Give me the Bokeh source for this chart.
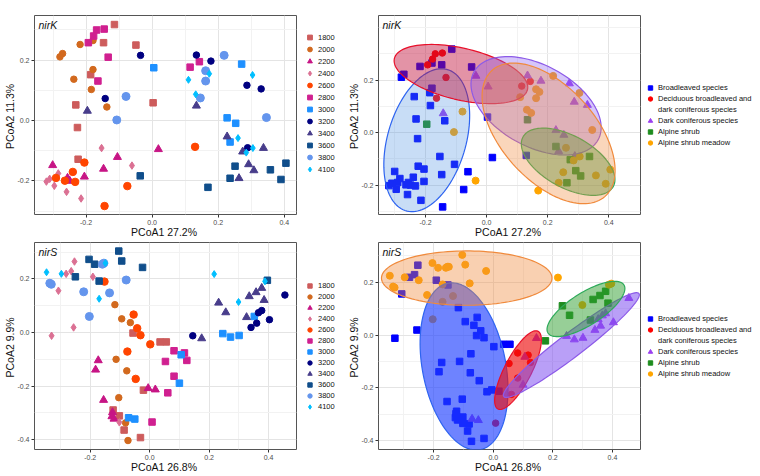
import numpy as np
from bokeh.plotting import figure
from bokeh.models import (ColumnDataSource, Legend, LegendItem, Label, FixedTicker, Range1d,
                          NumeralTickFormatter)
from bokeh.layouts import row, column
from bokeh.embed import file_html
from bokeh.resources import INLINE

FONT = "Liberation Sans"

# ---------------- categories ----------------
altitude_labels = ["1800", "2000", "2200", "2400", "2600", "2800",
                   "3000", "3200", "3400", "3600", "3800", "4100"]
altitude_markers = ["square", "circle", "triangle", "diamond", "circle", "square",
                    "square", "circle", "triangle", "square", "circle", "diamond"]
altitude_colors = ["#CD5C5C", "#D2691E", "#C71585", "#DB7093", "#FF4500", "#D02090",
                   "#1E90FF", "#000080", "#483D8B", "#104E8B", "#6495ED", "#00BFFF"]
altitude_sizes = [6.5, 6.5, 8, 7.5, 7.5, 6.5, 6.5, 6.5, 8, 6.5, 8, 7]

vegetation_labels = ["Broadleaved species",
                     "Deciduous broadleaved and dark coniferous species",
                     "Dark coniferous species", "Alpine shrub", "Alpine shrub meadow"]
vegetation_legend_lines = [["Broadleaved species"],
                           ["Deciduous broadleaved and", "dark coniferous species"],
                           ["Dark coniferous species"], ["Alpine shrub"], ["Alpine shrub meadow"]]
vegetation_markers = ["square", "circle", "triangle", "square", "circle"]
vegetation_colors = ["#0000FF", "#FF0000", "#9B3FF0", "#1E8C1E", "#FFA500"]
vegetation_sizes = [6.5, 6.5, 8, 6.5, 7]
# vegetation zone of each altitude (index into vegetation_labels)
vegetation_of_altitude = [0, 0, 0, 0, 0, 1, 2, 2, 3, 4, 4, 4]

ellipse_line_colors = ["#2E64F0", "#E8102A", "#8C5AE8", "#2EAA5A", "#F08A3C"]
nirk_fill_colors = ["#4A90E2", "#C0103A", "#8A5CF0", "#2E9E4A", "#F08A3C"]
nirk_fill_alpha = [0.30, 0.45, 0.35, 0.45, 0.35]
nirs_fill_colors = ["#2040FF", "#EE1010", "#8050F0", "#30A030", "#F08A3C"]
nirs_fill_alpha = [0.65, 0.65, 0.55, 0.50, 0.40]

# ---------------- nirK samples ----------------
nirk_altitude = (["1800"] * 8 + ["2000"] * 8 + ["2200"] * 7 + ["2400"] * 8 + ["2600"] * 8 +
                 ["2800"] * 8 + ["3000"] * 5 + ["3200"] * 7 + ["3400"] * 8 + ["3600"] * 7 +
                 ["3800"] * 7 + ["4100"] * 7)
nirk_pc1 = [-0.114, -0.049, -0.147, -0.186, -0.231, -0.226, 0.003, -0.224,
            -0.218, -0.271, -0.279, -0.179, -0.179, -0.237, -0.184, -0.137,
            -0.301, -0.256, -0.205, -0.147, -0.105, 0.019, -0.249,
            -0.320, -0.310, -0.296, -0.284, -0.259, -0.215, -0.153, -0.061,
            -0.291, -0.264, -0.240, -0.233, -0.205, -0.144, -0.075, 0.130,
            -0.168, -0.145, -0.177, -0.193, -0.133, -0.164, 0.115, 0.143,
            0.005, 0.271, 0.227, 0.253, 0.236,
            -0.035, -0.142, 0.134, 0.178, 0.287, 0.330, 0.289,
            -0.196, 0.134, 0.227, 0.274, 0.337, 0.292, 0.308, 0.263,
            -0.036, 0.251, 0.236, 0.169, 0.358, 0.390, 0.405,
            -0.079, -0.107, 0.218, 0.162, 0.162, 0.146, 0.346,
            0.110, 0.173, 0.132, 0.304, 0.260, 0.305, 0.285]
nirk_pc2 = [0.318, 0.250, 0.258, 0.152, 0.052, -0.023, 0.059, -0.128,
            0.252, 0.222, 0.211, 0.265, 0.169, 0.137, 0.103, 0.045,
            -0.148, -0.190, -0.186, -0.160, -0.121, -0.095, -0.200,
            -0.202, -0.193, -0.216, -0.175, -0.236, -0.258, -0.091, -0.149,
            -0.190, -0.199, -0.170, -0.203, -0.139, -0.283, -0.217, -0.087,
            0.300, 0.303, 0.280, 0.258, 0.210, 0.131, 0.177, 0.195,
            0.175, 0.187, 0.009, -0.009, -0.071,
            0.216, 0.073, 0.217, 0.197, 0.117, 0.105, -0.090,
            0.032, 0.049, -0.053, -0.103, -0.091, -0.145, -0.165, -0.191,
            -0.183, -0.151, -0.191, -0.221, -0.163, -0.195, -0.141,
            0.080, 0.002, 0.216, 0.165, 0.131, 0.075, 0.010,
            0.135, 0.155, 0.087, 0.151, -0.058, -0.091, -0.106]

# ---------------- nirS samples ----------------
nirs_altitude = (["1800"] * 8 + ["2000"] * 8 + ["2200"] * 8 + ["2400"] * 8 + ["2600"] * 7 +
                 ["2800"] * 7 + ["3000"] * 8 + ["3200"] * 7 + ["3400"] * 8 + ["3600"] * 8 +
                 ["3800"] * 8 + ["4100"] * 7)
nirs_pc1 = [-0.056, 0.035, 0.056, -0.021, -0.123, -0.102, -0.086, -0.031,
            -0.117, -0.094, -0.065, -0.113, -0.077, -0.104, -0.081, -0.073,
            -0.173, -0.182, -0.005, 0.019, -0.155, -0.125, -0.127, -0.120,
            -0.253, -0.264, -0.281, -0.191, -0.307, -0.256, -0.330, -0.102,
            -0.152, -0.054, -0.042, -0.031, 0.002, -0.075, -0.047,
            0.082, 0.117, 0.125, 0.053, 0.082, 0.061, 0.008,
            0.106, 0.100, -0.071, -0.050, 0.246, 0.272, 0.301, 0.352,
            0.145, 0.341, 0.360, 0.366, 0.377, 0.403, 0.455,
            0.175, 0.232, 0.256, 0.326, 0.335, 0.358, 0.377, 0.385,
            -0.204, -0.185, -0.250, -0.170, -0.104, -0.094, -0.024, 0.396,
            -0.331, -0.336, -0.222, -0.203, -0.159, -0.154, -0.135, -0.079,
            -0.347, -0.297, -0.149, -0.170, 0.217, 0.299, 0.388]
nirs_pc2 = [-0.002, -0.035, -0.035, -0.215, -0.289, -0.311, -0.364, -0.392,
            0.104, 0.051, 0.037, -0.100, -0.143, -0.243, -0.337, -0.403,
            -0.104, -0.139, -0.208, -0.213, -0.252, -0.298, -0.313, -0.322,
            0.265, 0.229, 0.219, 0.208, 0.156, 0.019, -0.012, -0.335,
            0.190, 0.067, 0.016, -0.010, -0.044, -0.071, -0.173,
            -0.068, -0.076, -0.104, -0.108, -0.163, -0.225, -0.334,
            -0.083, -0.189, -0.318, -0.323, -0.004, -0.017, -0.011, 0.060,
            -0.012, 0.019, 0.035, 0.074, 0.082, 0.048, 0.140,
            -0.022, 0.111, 0.075, 0.057, 0.135, 0.150, 0.166, 0.121,
            0.273, 0.255, 0.208, 0.192, 0.304, 0.267, 0.243, 0.195,
            0.180, 0.184, 0.152, 0.060, 0.255, 0.259, 0.148, 0.196,
            0.225, 0.219, 0.259, 0.126, 0.218, 0.114, 0.191]

# ---------------- ellipses (center, end of one axis, end of the conjugate axis) ----------------
nirk_ell_cx = [-0.196, -0.084, 0.162, 0.267, 0.203]
nirk_ell_cy = [-0.029, 0.223, 0.102, -0.111, -0.003]
nirk_ell_ax = [-0.128, 0.134, 0.365, 0.415, 0.388]
nirk_ell_ay = [0.240, 0.164, -0.028, -0.205, -0.243]
nirk_ell_bx = [-0.073, -0.103, 0.227, 0.307, 0.318]
nirk_ell_by = [-0.071, 0.127, 0.237, -0.024, 0.116]

nirs_ell_cx = [-0.098, 0.083, 0.262, 0.311, -0.089]
nirs_ell_cy = [-0.119, -0.133, -0.038, 0.099, 0.216]
nirs_ell_ax = [-0.041, 0.151, 0.489, 0.439, 0.197]
nirs_ell_ay = [-0.434, 0.014, 0.157, 0.189, 0.216]
nirs_ell_bx = [0.038, 0.122, 0.284, 0.337, -0.089]
nirs_ell_by = [-0.082, -0.159, -0.076, 0.045, 0.319]

# ---------------- axes ----------------
nirk_left_xrange = [-0.356, 0.437]
nirk_left_yrange = [-0.311, 0.348]
nirk_right_xrange = [-0.354, 0.504]
nirk_right_yrange = [-0.312, 0.446]
nirs_left_xrange = [-0.3875, 0.494]
nirs_left_yrange = [-0.4365, 0.336]
nirs_right_xrange = [-0.385, 0.494]
nirs_right_yrange = [-0.434, 0.351]
x_ticks = [-0.2, 0.0, 0.2, 0.4]
x_minor = [-0.3, -0.1, 0.1, 0.3]
nirk_y_ticks = [-0.2, 0.0, 0.2]
nirk_y_minor = [-0.3, -0.1, 0.1, 0.3, 0.4]
nirs_y_ticks = [-0.4, -0.2, 0.0, 0.2]
nirs_y_minor = [-0.3, -0.1, 0.1, 0.3]

PANEL_W = 300
LEFT_LEG_W = 44
RIGHT_LEG_W = 114
TOP_H = 240
BOTTOM_H = 235
TOP_BORDER = [1, 2]
BORDER_BOTTOM = 25


def base_figure(height, top, xr, yr, yticks, yminor, xlabel, ylabel, tag):
    p = figure(width=PANEL_W, height=height, x_range=Range1d(*xr), y_range=Range1d(*yr),
               output_backend="svg", toolbar_location=None,
               min_border_left=34, min_border_right=4,
               min_border_top=top, min_border_bottom=BORDER_BOTTOM,
               background_fill_color="white", border_fill_color="white")
    p.outline_line_color = "#555555"
    p.outline_line_width = 1
    p.xaxis.ticker = FixedTicker(ticks=x_ticks, minor_ticks=x_minor)
    p.yaxis.ticker = FixedTicker(ticks=yticks, minor_ticks=yminor)
    p.xaxis.formatter = NumeralTickFormatter(format="0.0")
    p.yaxis.formatter = NumeralTickFormatter(format="0.0")
    p.xaxis.axis_label = xlabel
    p.yaxis.axis_label = ylabel
    for ax in p.axis:
        ax.axis_line_color = None
        ax.major_tick_line_color = "#333333"
        ax.major_tick_out = 3
        ax.major_tick_in = 0
        ax.minor_tick_line_color = None
        ax.major_label_text_font = FONT
        ax.major_label_text_font_size = "7px"
        ax.major_label_text_color = "#4D4D4D"
        ax.major_label_standoff = 1
        ax.axis_label_text_font = FONT
        ax.axis_label_text_font_size = "10.5px"
        ax.axis_label_text_font_style = "normal"
        ax.axis_label_text_color = "#111111"
        ax.axis_label_standoff = -2
    p.grid.grid_line_color = "#E4E4E4"
    p.grid.minor_grid_line_color = "#F2F2F2"
    p.add_layout(Label(x=xr[0], y=yr[1], x_offset=4, y_offset=-3, text=tag,
                       text_font=FONT, text_font_style="italic", text_font_size="10.5px",
                       text_baseline="top", text_align="left", text_color="#111111"))
    return p


def legend_figure(width, height, top, lines, markers, colors, glyph_w, glyph_h, margin, where):
    lf = figure(width=width, height=height, x_range=Range1d(0, 1), y_range=Range1d(0, 1),
                output_backend="svg", toolbar_location=None, x_axis_type=None, y_axis_type=None,
                min_border_left=0, min_border_right=0,
                min_border_top=top, min_border_bottom=BORDER_BOTTOM,
                outline_line_color=None, background_fill_color="white", border_fill_color="white")
    # legend-key proxies: one point each, placed outside the visible range
    off = [lf.x_range.end + 1.0]
    items = []
    for lab_lines, m, c in zip(lines, markers, colors):
        for j, text in enumerate(lab_lines):
            if j == 0:
                r = lf.scatter(x=off, y=off, marker=m, size=6, fill_color=c, line_color=c)
            else:
                r = lf.scatter(x=off, y=off, marker="circle", size=6, fill_alpha=0, line_alpha=0)
            items.append(LegendItem(label=text, renderers=[r]))
    leg = Legend(items=items, location=where, border_line_color=None,
                 background_fill_alpha=0, label_text_font=FONT, label_text_font_size="7.5px",
                 label_text_color="#111111", glyph_width=glyph_w, glyph_height=glyph_h,
                 label_height=glyph_h, spacing=0, label_standoff=2, padding=1, margin=margin)
    lf.add_layout(leg)
    return lf


def altitude_panel(height, top, xr, yr, yticks, yminor, xlabel, ylabel, tag, alt, pc1, pc2):
    p = base_figure(height, top, xr, yr, yticks, yminor, xlabel, ylabel, tag)
    for k, lab in enumerate(altitude_labels):
        idx = [i for i, a in enumerate(alt) if a == lab]
        src = ColumnDataSource(dict(x=[pc1[i] for i in idx], y=[pc2[i] for i in idx]))
        p.scatter("x", "y", source=src, marker=altitude_markers[k], size=altitude_sizes[k],
                  fill_color=altitude_colors[k], line_color=altitude_colors[k])
    return p


def vegetation_panel(height, top, xr, yr, yticks, yminor, xlabel, ylabel, tag, alt, pc1, pc2,
                     ecx, ecy, eax, eay, ebx, eby, fills, alphas):
    p = base_figure(height, top, xr, yr, yticks, yminor, xlabel, ylabel, tag)
    veg = [vegetation_of_altitude[altitude_labels.index(a)] for a in alt]
    for k in range(len(vegetation_labels)):
        idx = [i for i, v in enumerate(veg) if v == k]
        src = ColumnDataSource(dict(x=[pc1[i] for i in idx], y=[pc2[i] for i in idx]))
        p.scatter("x", "y", source=src, marker=vegetation_markers[k], size=vegetation_sizes[k],
                  fill_color=vegetation_colors[k], line_color=vegetation_colors[k])
    t = np.linspace(0, 2 * np.pi, 120)
    xs, ys = [], []
    for k in range(len(ecx)):
        xs.append(list(ecx[k] + (eax[k] - ecx[k]) * np.cos(t) + (ebx[k] - ecx[k]) * np.sin(t)))
        ys.append(list(ecy[k] + (eay[k] - ecy[k]) * np.cos(t) + (eby[k] - ecy[k]) * np.sin(t)))
    esrc = ColumnDataSource(dict(xs=xs, ys=ys, fc=fills, fa=alphas, lc=ellipse_line_colors))
    p.patches("xs", "ys", source=esrc, fill_color="fc", fill_alpha="fa", line_color="lc", line_width=1.2)
    return p


alt_lines = [[a] for a in altitude_labels]

p1 = altitude_panel(TOP_H, TOP_BORDER[0], nirk_left_xrange, nirk_left_yrange, nirk_y_ticks, nirk_y_minor,
                    "PCoA1  27.2%", "PCoA2  11.3%", "nirK", nirk_altitude, nirk_pc1, nirk_pc2)
l1 = legend_figure(LEFT_LEG_W, TOP_H, TOP_BORDER[0], alt_lines, altitude_markers, altitude_colors,
                   13, 12, 3, (3, 39))
p2 = vegetation_panel(TOP_H, TOP_BORDER[0], nirk_right_xrange, nirk_right_yrange, nirk_y_ticks, nirk_y_minor,
                      "PCoA1  27.2%", "PCoA2  11.3%", "nirK", nirk_altitude, nirk_pc1, nirk_pc2,
                      nirk_ell_cx, nirk_ell_cy, nirk_ell_ax, nirk_ell_ay, nirk_ell_bx, nirk_ell_by,
                      nirk_fill_colors, nirk_fill_alpha)
l2 = legend_figure(RIGHT_LEG_W, TOP_H, TOP_BORDER[0] + 14, vegetation_legend_lines, vegetation_markers,
                   vegetation_colors, 12, 11, 0, "center_left")

p3 = altitude_panel(BOTTOM_H, TOP_BORDER[1], nirs_left_xrange, nirs_left_yrange, nirs_y_ticks, nirs_y_minor,
                    "PCoA1  26.8%", "PCoA2  9.9%", "nirS", nirs_altitude, nirs_pc1, nirs_pc2)
l3 = legend_figure(LEFT_LEG_W, BOTTOM_H, TOP_BORDER[1], alt_lines, altitude_markers, altitude_colors,
                   13, 11, 3, "center_left")
p4 = vegetation_panel(BOTTOM_H, TOP_BORDER[1], nirs_right_xrange, nirs_right_yrange, nirs_y_ticks, nirs_y_minor,
                      "PCoA1  26.8%", "PCoA2  9.9%", "nirS", nirs_altitude, nirs_pc1, nirs_pc2,
                      nirs_ell_cx, nirs_ell_cy, nirs_ell_ax, nirs_ell_ay, nirs_ell_bx, nirs_ell_by,
                      nirs_fill_colors, nirs_fill_alpha)
l4 = legend_figure(RIGHT_LEG_W, BOTTOM_H, TOP_BORDER[1], vegetation_legend_lines, vegetation_markers,
                   vegetation_colors, 12, 11, 0, "center_left")

layout = column(row(p1, l1, p2, l2), row(p3, l3, p4, l4))
open("out.html", "w").write(file_html(layout, INLINE))
